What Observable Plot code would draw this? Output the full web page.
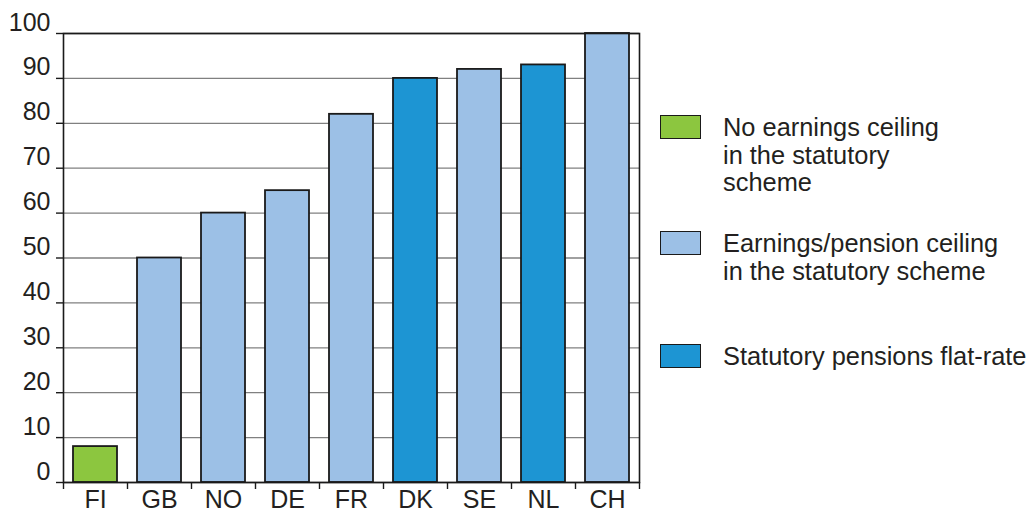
<!DOCTYPE html>
<html>
<head>
<meta charset="utf-8">
<script src="https://cdn.jsdelivr.net/npm/d3@7"></script>
<script src="https://cdn.jsdelivr.net/npm/@observablehq/plot@0.6"></script>
<style>
  html, body { margin: 0; padding: 0; background: #fff; }
  #wrap { position: relative; width: 1031px; height: 521px; font-family: "Liberation Sans", Arial, sans-serif; color: #231f20; }
  #wrap svg { display: block; }
  .legend-item { position: absolute; left: 660px; display: flex; align-items: flex-start; }
  .swatch { width: 39px; height: 22px; border: 1.5px solid #1a1a1a; margin-top: 1px; flex: none; }
  .label { margin-left: 22px; font-size: 25.4px; line-height: 27.5px; white-space: pre-line; }
</style>
</head>
<body>
<div id="wrap"></div>
<script>
const categories = ["FI", "GB", "NO", "DE", "FR", "DK", "SE", "NL", "CH"];
const values = [8, 50, 60, 65, 82, 90, 92, 93, 100];
const types = ["none", "ceiling", "ceiling", "ceiling", "ceiling", "flat", "ceiling", "flat", "ceiling"];
const typeKeys = ["none", "ceiling", "flat"];
const typeLabels = [
  "No earnings ceiling\nin the statutory\nscheme",
  "Earnings/pension ceiling\nin the statutory scheme",
  "Statutory pensions flat-rate"
];
const typeColors = ["#8cc63f", "#9cc0e6", "#1d95d3"];
const yTicks = [0, 10, 20, 30, 40, 50, 60, 70, 80, 90, 100];

const data = categories.map((c, i) => ({country: c, value: values[i], type: types[i]}));

const W = 1031, H = 521, mL = 63, mR = 392, mT = 33, mB = 39;
const halfStep = (W - mL - mR) / categories.length / 2;

const chart = Plot.plot({
  width: W, height: H,
  marginLeft: mL, marginRight: mR, marginTop: mT, marginBottom: mB,
  style: {fontFamily: '"Liberation Sans", Arial, sans-serif', fontSize: "25px", color: "#231f20", background: "white", overflow: "visible"},
  x: {domain: categories, paddingInner: 0.32, paddingOuter: 0.16, axis: null, label: null},
  y: {domain: [0, 100], axis: null, label: null},
  color: {domain: typeKeys, range: typeColors},
  marks: [
    Plot.gridY(yTicks, {stroke: "#808080", strokeOpacity: 1, strokeWidth: 1.3}),
    Plot.barY(data, {x: "country", y: "value", fill: "type", stroke: "#1a1a1a", strokeWidth: 1.8}),
    Plot.frame({stroke: "#1a1a1a", strokeWidth: 1.6}),
    Plot.axisY(yTicks, {text: null, label: null, tickSize: 7, stroke: "#1a1a1a", strokeWidth: 1.4}),
    Plot.axisY(yTicks, {label: null, tickSize: 0, tickPadding: 13, dy: -11, fontSize: 25, fill: "#231f20"}),
    Plot.axisX(categories, {label: null, tickSize: 0, tickPadding: 8, fontSize: 25, fill: "#231f20"}),
    Plot.axisX(categories, {label: null, text: null, tickSize: 7, dx: -halfStep, stroke: "#1a1a1a", strokeWidth: 1.4}),
    Plot.axisX([categories[categories.length - 1]], {label: null, text: null, tickSize: 7, dx: halfStep, stroke: "#1a1a1a", strokeWidth: 1.4})
  ]
});

const wrap = document.getElementById("wrap");
wrap.appendChild(chart);

const legendTops = [114, 230, 343];
typeKeys.forEach((k, i) => {
  const item = document.createElement("div");
  item.className = "legend-item";
  item.style.top = legendTops[i] + "px";
  const sw = document.createElement("div");
  sw.className = "swatch";
  sw.style.background = typeColors[i];
  const lb = document.createElement("div");
  lb.className = "label";
  lb.textContent = typeLabels[i];
  item.appendChild(sw);
  item.appendChild(lb);
  wrap.appendChild(item);
});
</script>
</body>
</html>
